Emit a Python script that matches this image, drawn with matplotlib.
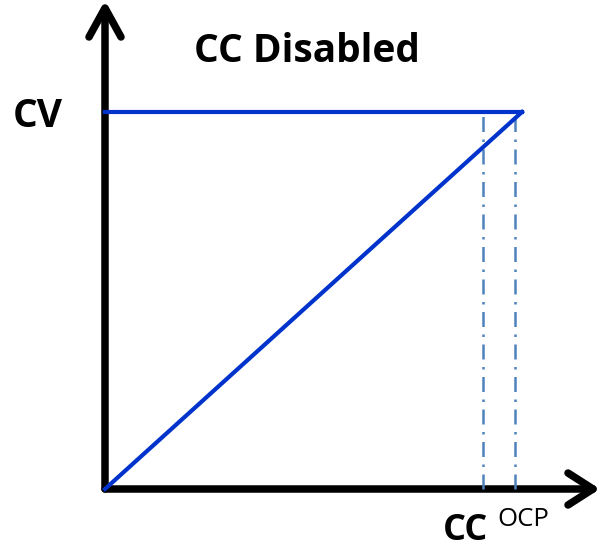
import matplotlib.pyplot as plt

# chart values (arbitrary units, origin at the axes corner)
cv_level = 377
ocp_current = 417
cc_markers = [378, 410]
ramp_x = [0, ocp_current]
ramp_y = [0, cv_level]

blue = '#0033CC'
dash_blue = '#4F81BD'

fig = plt.figure(figsize=(5.97, 5.53), dpi=100)
ax = fig.add_axes([0, 0, 1, 1])
ax.set_xlim(-105, 492)
ax.set_ylim(-64, 489)
ax.axis('off')

# axes with open arrow heads
ax.plot([0, 0], [0, 480], color='black', lw=5.4, solid_capstyle='round')
ax.plot([0, 488], [0, 0], color='black', lw=5.4, solid_capstyle='round')
ax.plot([-16, 0, 16], [452, 481, 452], color='black', lw=5.4,
        solid_capstyle='round', solid_joinstyle='round')
ax.plot([463, 488, 463], [16, 0, -16], color='black', lw=5.4,
        solid_capstyle='round', solid_joinstyle='round')

# dash-dot markers
for xm in cc_markers:
    ax.plot([xm, xm], [0, cv_level], color=dash_blue, lw=1.8,
            linestyle=(0, (6, 3, 1, 3)))

# CV line and ramp
ax.plot([0, ocp_current], [cv_level, cv_level], color=blue, lw=3)
ax.plot(ramp_x, ramp_y, color=blue, lw=3)

font = 'Open Sans'
ax.text(201.5, 427, 'CC Disabled', ha='center', va='baseline',
        fontsize=28, fontweight='bold', family=font)
ax.text(-92, 362, 'CV', ha='left', va='baseline',
        fontsize=28, fontweight='bold', family=font)
ax.text(338, -51, 'CC', ha='left', va='baseline',
        fontsize=26, fontweight='bold', family=font)
ax.text(392, -37, 'OCP', ha='left', va='baseline',
        fontsize=18.5, family=font)

fig.savefig('out.png', dpi=100)
